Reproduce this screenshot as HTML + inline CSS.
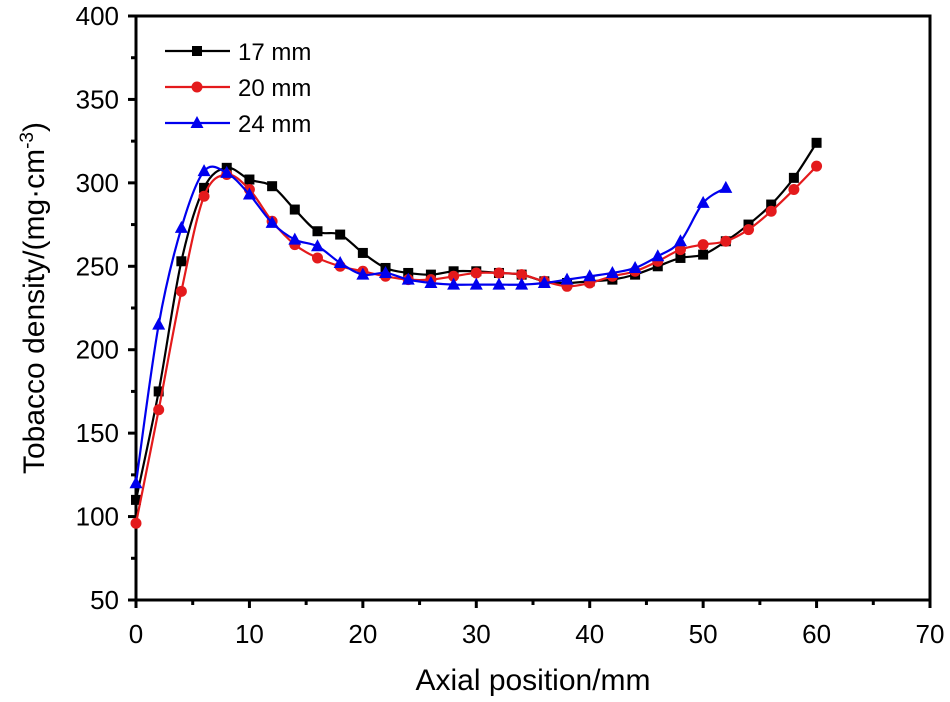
<!DOCTYPE html>
<html><head><meta charset="utf-8"><style>body{margin:0;background:#fff}svg{display:block}text{font-family:"Liberation Sans",sans-serif}</style></head>
<body>
<svg id="chart" width="950" height="702"></svg>
<script>
const xs=[0,2,4,6,8,10,12,14,16,18,20,22,24,26,28,30,32,34,36,38,40,42,44,46,48,50,52,54,56,58,60];
const s17=[110,175,253,297,309,302,298,284,271,269,258,249,246,245,247,247,246,245,241,240,241,242,245,250,255,257,265,275,287,303,324];
const s20=[96,164,235,292,305,296,277,263,255,250,247,244,242,242,244,246,246,245,241,238,240,244,247,253,260,263,265,272,283,296,310];
const xs24=[0,2,4,6,8,10,12,14,16,18,20,22,24,26,28,30,32,34,36,38,40,42,44,46,48,50,52];
const s24=[120,215,273,307,306,293,276,266,262,252,245,246,242,240,239,239,239,239,240,242,244,246,249,256,265,288,297];
const xTicks=[0,10,20,30,40,50,60,70];
const yTicks=[50,100,150,200,250,300,350,400];
const L=136,R=930,T=16,B=600;
const X=v=>L+(v-0)/70*(R-L), Y=v=>B-(v-50)/350*(B-T);
const svg=document.getElementById('chart');const NS='http://www.w3.org/2000/svg';
function mk(t,a,p){const e=document.createElementNS(NS,t);for(const k in a)e.setAttribute(k,a[k]);(p||svg).appendChild(e);return e;}
let e;
e=mk('rect',{x:L,y:T,width:R-L,height:B-T,fill:'none',stroke:'#000','stroke-width':3});


xTicks.forEach(v=>{
 e=mk('line',{x1:X(v),x2:X(v),y1:B,y2:B+8,stroke:'#000','stroke-width':3});
 
 
 if(v<70){e=mk('line',{x1:X(v+5),x2:X(v+5),y1:B,y2:B+5,stroke:'#000','stroke-width':3});
 
 }
 e=mk('text',{x:X(v),y:B+43,'text-anchor':'middle','font-size':26});e.textContent=v;
 
 
});
yTicks.forEach(v=>{
 e=mk('line',{x1:L-8,x2:L,y1:Y(v),y2:Y(v),stroke:'#000','stroke-width':3});
 
 
 if(v<400){e=mk('line',{x1:L-5,x2:L,y1:Y(v+25),y2:Y(v+25),stroke:'#000','stroke-width':3});
 
 }
 e=mk('text',{x:L-17,y:Y(v)+9,'text-anchor':'end','font-size':26});e.textContent=v;
 
 
});
e=mk('text',{x:533,y:690,'text-anchor':'middle','font-size':30});e.textContent='Axial position/mm';


e=mk('text',{x:0,y:0,'text-anchor':'middle','font-size':30,transform:'translate(44,298) rotate(-90)'});
e.innerHTML='Tobacco density/(mg·cm<tspan dy="-11" font-size="19">-3</tspan><tspan dy="11">)</tspan>';


function marker(g,type,cx,cy,c){
 if(type==='sq')return mk('rect',{x:cx-5,y:cy-5,width:10,height:10,fill:c},g);
 if(type==='ci')return mk('circle',{cx:cx,cy:cy,r:5.5,fill:c},g);
 return mk('polygon',{points:`${cx},${cy-7} ${cx-6.5},${cy+5} ${cx+6.5},${cy+5}`,fill:c},g);
}
function smooth(p){let d=`M${p[0][0]},${p[0][1]}`;for(let i=0;i<p.length-1;i++){const p0=p[i-1]||p[i],p1=p[i],p2=p[i+1],p3=p[i+2]||p2;
 d+=` C${p1[0]+(p2[0]-p0[0])/6},${p1[1]+(p2[1]-p0[1])/6} ${p2[0]-(p3[0]-p1[0])/6},${p2[1]-(p3[1]-p1[1])/6} ${p2[0]},${p2[1]}`;}return d;}
const series=[[xs,s17,'#000','sq','series-17mm'],[xs,s20,'#e41a1c','ci','series-20mm'],[xs24,s24,'#0000ee','tr','series-24mm']];
series.forEach(([xa,ya,c,m,n])=>{
 const g=mk('g',{});
 
 
 e=mk('path',{d:smooth(xa.map((x,i)=>[X(x),Y(ya[i])])),fill:'none',stroke:c,'stroke-width':2.2,'stroke-linejoin':'round'},g);
 
 
 xa.forEach((x,i)=>{e=marker(g,m,X(x),Y(ya[i]),c);
 
 });
});
const labels=['17 mm','20 mm','24 mm'];
series.forEach(([xa,ya,c,m,n],i)=>{
 const y=51+i*36;
 const g=mk('g',{});
 
 
 mk('line',{x1:165,x2:230,y1:y,y2:y,stroke:c,'stroke-width':2.2},g);
 marker(g,m,197,y,c);
 const t=mk('text',{x:238,y:y+9,'font-size':24},g);t.textContent=labels[i];
});
</script>
</body></html>
